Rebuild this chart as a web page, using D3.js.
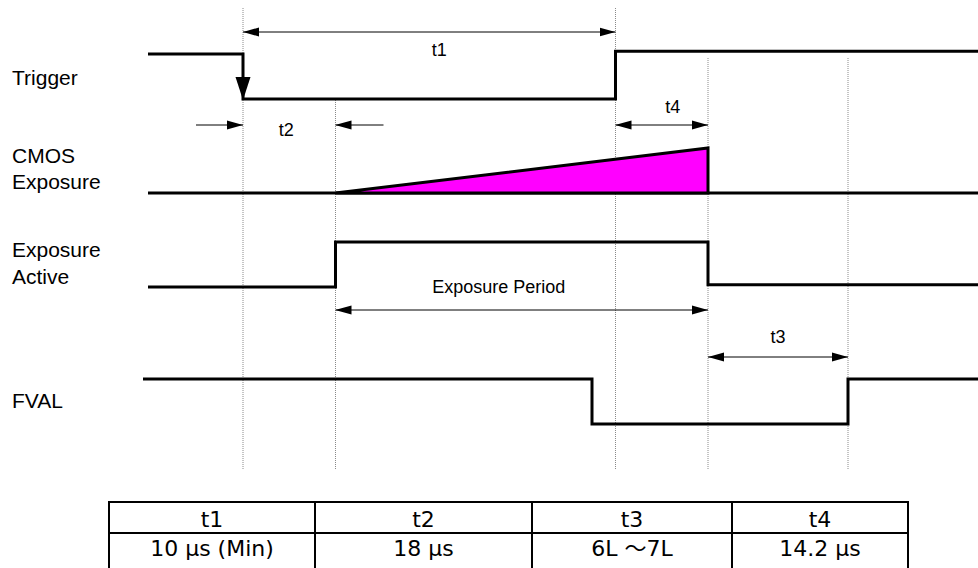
<!DOCTYPE html>
<html>
<head>
<meta charset="utf-8">
<script src="https://cdn.jsdelivr.net/npm/d3@7"></script>
<style>
  body { margin: 0; background: #fff; }
  svg { display: block; }
</style>
</head>
<body>
<div id="chart"></div>
<script>
// timing diagram: every edge is a time value, x comes from one linear scale,
// each signal sits on its own row and level 0/1 maps to low/high

const signalLabels = [['Trigger'], ['CMOS', 'Exposure'], ['Exposure', 'Active'], ['FVAL']];

// [time, level] steps
const triggerWave = [[0, 1], [19, 1], [19, 0], [93.5, 0], [93.5, 1.06], [166, 1.06]];
const cmosBase = [[0, 0], [166, 0]];
const cmosRamp = [[37.5, 0], [112, 1], [112, 0]];
const activeWave = [[0, 0], [37.5, 0], [37.5, 1], [112, 1], [112, 0.05], [166, 0.05]];
const fvalWave = [[-1, 1], [88.8, 1], [88.8, 0], [140, 0], [140, 1], [166, 1]];

const markerTimes = [19, 37.5, 93.5, 112, 140];

const spanLabels = ['t1', 't2', 't4', 'Exposure Period', 't3'];
const spanFrom = [19, 19, 93.5, 37.5, 112];
const spanTo = [93.5, 37.5, 112, 112, 140];
const spanKind = ['both', 'outer', 'both', 'both', 'both'];

const tableHeads = ['t1', 't2', 't3', 't4'];
const tableValues = ['10 μs (Min)', '18 μs', '6L \uFF5E7L', '14.2 μs'];

// ---- layout (not data) ----
const W = 978, H = 568;
const rowLow = [99, 193, 287, 424];          // y of level 0 per signal
const labelBase = [[85], [163, 189], [257, 284], [408]];
const markerTop = [8, 100, 8, 58, 58];
const markerBottom = 470;
const spanY = [32, 125, 125, 310, 357];
const spanTextY = [56, 136, 113, 293, 343];
const spanTextDx = [10, -3, 11, -23, 0];
const colEdges = [109, 315, 532, 732, 908];
const tableTop = 502, tableMid = 533, tableBottom = 572;

const x = d3.scaleLinear().domain([0, 166]).range([148, 978]);
const lvl = d3.scaleLinear().domain([0, 1]).range([0, -45]);
const yOf = row => (v => rowLow[row] + lvl(v));

const svg = d3.select('#chart').append('svg')
  .attr('width', W).attr('height', H)
  .style('font-family', '"Liberation Sans", Arial, sans-serif');

svg.append('defs').append('marker')
  .attr('id', 'head')
  .attr('markerUnits', 'userSpaceOnUse')
  .attr('viewBox', '0 0 16 10')
  .attr('refX', 16).attr('refY', 5)
  .attr('markerWidth', 16).attr('markerHeight', 10)
  .attr('orient', 'auto-start-reverse')
  .append('path').attr('d', 'M0,0.5 L16,5 L0,9.5 Z').attr('fill', '#000');

// dotted guides
svg.append('g').selectAll('line')
  .data(markerTimes)
  .enter().append('line')
  .attr('x1', d => x(d)).attr('x2', d => x(d))
  .attr('y1', (d, i) => markerTop[i]).attr('y2', markerBottom)
  .attr('stroke', '#8a8a8a').attr('stroke-width', 1)
  .attr('stroke-dasharray', '1,1');

// signal names
signalLabels.forEach((lines, i) => {
  svg.append('g').selectAll('text')
    .data(lines)
    .enter().append('text')
    .attr('x', 12).attr('y', (d, j) => labelBase[i][j])
    .attr('font-size', 21).attr('fill', '#000')
    .text(d => d);
});

// waves
const waves = [triggerWave, cmosBase, activeWave, fvalWave];
const waveRow = [0, 1, 2, 3];
waves.forEach((wave, i) => {
  const y = yOf(waveRow[i]);
  svg.append('path')
    .datum(wave)
    .attr('d', d3.line().x(d => x(d[0])).y(d => y(d[1])))
    .attr('fill', 'none').attr('stroke', '#000')
    .attr('stroke-width', 3).attr('stroke-linejoin', 'miter');
});

const yc = yOf(1);
svg.append('path')
  .datum(cmosRamp)
  .attr('d', d3.line().x(d => x(d[0])).y(d => yc(d[1])).curve(d3.curveLinearClosed))
  .attr('fill', '#ff00ff').attr('stroke', '#000')
  .attr('stroke-width', 3).attr('stroke-linejoin', 'miter');

// trigger falling edge arrowhead
const tx = x(triggerWave[1][0]), tTip = yOf(0)(0) + 1;
svg.append('path')
  .attr('d', `M${tx - 7.5},${tTip - 23} L${tx + 7.5},${tTip - 23} L${tx},${tTip} Z`)
  .attr('fill', '#000');

// dimension arrows
spanLabels.forEach((label, i) => {
  const a = x(spanFrom[i]), b = x(spanTo[i]), y = spanY[i];
  if (spanKind[i] === 'both') {
    svg.append('line')
      .attr('x1', a).attr('x2', b).attr('y1', y).attr('y2', y)
      .attr('stroke', '#000').attr('stroke-width', 1)
      .attr('marker-start', 'url(#head)').attr('marker-end', 'url(#head)');
  } else {
    svg.append('line')
      .attr('x1', a - 47).attr('x2', a).attr('y1', y).attr('y2', y)
      .attr('stroke', '#000').attr('stroke-width', 1)
      .attr('marker-end', 'url(#head)');
    svg.append('line')
      .attr('x1', b + 48).attr('x2', b).attr('y1', y).attr('y2', y)
      .attr('stroke', '#000').attr('stroke-width', 1)
      .attr('marker-end', 'url(#head)');
  }
  svg.append('text')
    .attr('x', (a + b) / 2 + spanTextDx[i]).attr('y', spanTextY[i])
    .attr('text-anchor', 'middle').attr('font-size', 18).attr('fill', '#000')
    .text(label);
});

// spec table
const table = svg.append('g').style('font-family', '"DejaVu Sans", sans-serif');
table.append('rect')
  .attr('x', colEdges[0]).attr('y', tableTop)
  .attr('width', colEdges[4] - colEdges[0]).attr('height', tableBottom - tableTop)
  .attr('fill', 'none').attr('stroke', '#000').attr('stroke-width', 2);
table.append('line')
  .attr('x1', colEdges[0]).attr('x2', colEdges[4])
  .attr('y1', tableMid).attr('y2', tableMid)
  .attr('stroke', '#000').attr('stroke-width', 2);
table.selectAll('line.col')
  .data(colEdges.slice(1, 4))
  .enter().append('line').attr('class', 'col')
  .attr('x1', d => d).attr('x2', d => d)
  .attr('y1', tableTop).attr('y2', tableBottom)
  .attr('stroke', '#000').attr('stroke-width', 2);

const colMid = i => (colEdges[i] + colEdges[i + 1]) / 2;
table.selectAll('text.head')
  .data(tableHeads)
  .enter().append('text').attr('class', 'head')
  .attr('x', (d, i) => colMid(i)).attr('y', 527)
  .attr('text-anchor', 'middle').attr('font-size', 22)
  .text(d => d);

// the wave dash is full-width, so give it a CJK font
table.selectAll('text.val')
  .data(tableValues)
  .enter().append('text').attr('class', 'val')
  .attr('x', (d, i) => colMid(i)).attr('y', 556)
  .attr('text-anchor', 'middle').attr('font-size', 22)
  .each(function (d) {
    const t = d3.select(this);
    d.split(/(\uFF5E)/).filter(s => s.length).forEach(part => {
      const span = t.append('tspan').text(part);
      if (part === '\uFF5E') span.style('font-family', '"Noto Sans CJK JP", sans-serif');
    });
  });
</script>
</body>
</html>
